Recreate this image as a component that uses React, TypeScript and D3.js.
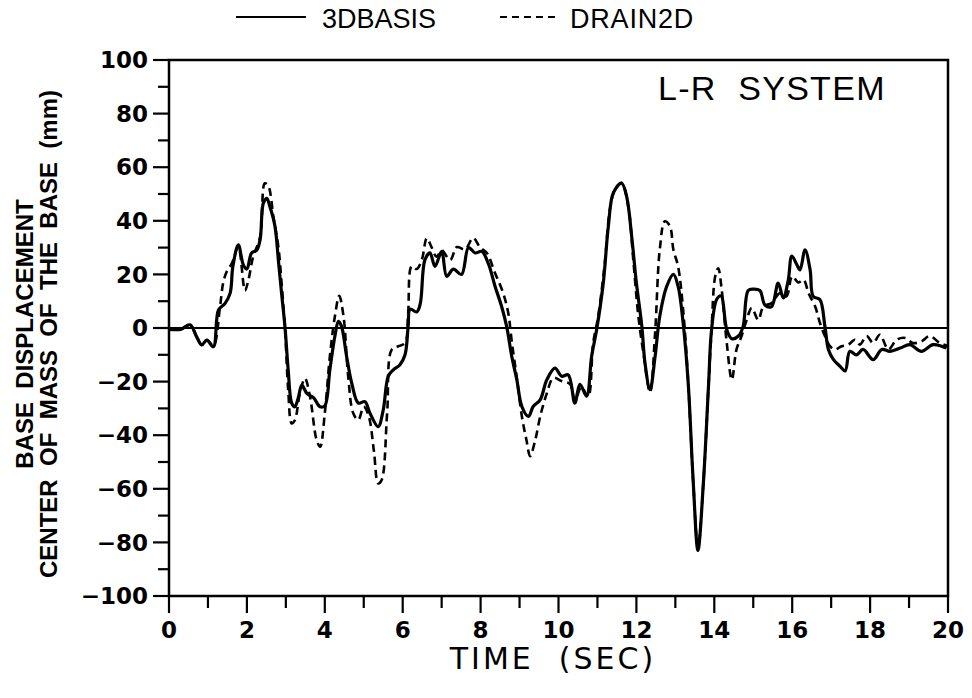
import React from "react";
import * as d3 from "d3";

const solidTime = [0,0.3,0.54,0.71,0.84,0.97,1.14,1.27,1.44,1.57,1.64,1.78,1.91,2.0,2.12,2.25,2.34,2.42,2.51,2.59,2.72,2.81,2.89,2.98,3.06,3.15,3.23,3.32,3.41,3.54,3.71,3.88,4.0,4.13,4.26,4.35,4.43,4.56,4.69,4.86,5.03,5.16,5.37,5.5,5.63,5.76,5.93,6.06,6.14,6.19,6.36,6.45,6.57,6.7,6.83,7.0,7.13,7.3,7.51,7.69,7.86,8.03,8.2,8.37,8.54,8.67,8.8,8.93,9.06,9.23,9.35,9.53,9.7,9.91,10.08,10.25,10.42,10.55,10.72,10.85,10.98,11.15,11.28,11.41,11.62,11.75,11.88,12.0,12.14,12.22,12.35,12.48,12.6,12.78,12.95,13.07,13.2,13.33,13.46,13.58,13.72,13.85,13.93,14.06,14.17,14.32,14.45,14.62,14.74,14.87,15.0,15.17,15.3,15.47,15.64,15.77,15.9,15.99,16.12,16.2,16.33,16.46,16.54,16.71,16.84,16.93,17.06,17.23,17.36,17.48,17.65,17.82,18.08,18.3,18.51,18.77,19.02,19.32,19.62,19.96];
const solidValue = [-0.5,-0.5,1.2,-3.3,-6.3,-4.5,-7,6.7,9.2,13,23,31,23.5,22,28,29,33,46.5,48.4,45.3,38,25,13,0,-15.6,-28,-29.4,-26,-21.3,-24.4,-26,-29.4,-29,-15.6,-3,2.5,0.6,-10.6,-20.5,-28,-27.5,-31.8,-36.8,-30.6,-18,-15.6,-13.7,-10,0.6,7,6,9,25.4,28,23,28.6,19.3,22,20,30,28,28.6,24,15.6,8,0.5,-10.6,-19.3,-29.3,-33,-29.3,-26.8,-19.3,-15,-18,-17.5,-28,-21,-25.4,-10.6,-0.6,16.8,38,50.5,54,49,34,16.8,0.6,-13,-23,-10.6,4.4,15.6,20,15.6,1.9,-20.5,-57.7,-83,-57.7,-22,-0.6,10.6,12,-0.6,-4,-3,0.6,14,14.5,14,8.6,8,16.8,11.2,18,26.8,23.6,21.7,29.2,21.7,11.8,10.6,0.6,-8,-11.8,-14.3,-16,-8.7,-10,-8,-11.8,-8,-8.7,-7.5,-6.2,-8.7,-6.2,-7.5];

const dashTime = [0,0.3,0.54,0.71,0.84,0.97,1.14,1.31,1.39,1.48,1.61,1.78,1.95,2.04,2.16,2.34,2.46,2.55,2.68,2.81,2.89,2.98,3.06,3.15,3.23,3.36,3.49,3.62,3.79,3.88,4.0,4.13,4.26,4.37,4.48,4.6,4.73,4.86,5.0,5.13,5.26,5.37,5.46,5.6,5.72,5.89,6.06,6.14,6.23,6.36,6.49,6.62,6.74,6.87,7.0,7.22,7.39,7.6,7.81,7.99,8.16,8.37,8.58,8.71,8.8,8.93,9.06,9.18,9.27,9.4,9.53,9.7,9.87,10.08,10.3,10.42,10.59,10.76,10.89,11.02,11.19,11.32,11.45,11.62,11.79,11.92,12.05,12.18,12.35,12.48,12.6,12.73,12.86,12.95,13.07,13.2,13.33,13.46,13.58,13.72,13.85,13.93,14.02,14.1,14.19,14.32,14.45,14.57,14.7,14.83,14.96,15.13,15.26,15.47,15.68,15.85,16.0,16.16,16.29,16.42,16.59,16.71,16.84,16.97,17.1,17.27,17.44,17.61,17.74,17.91,18.08,18.25,18.47,18.68,18.9,19.1,19.32,19.53,19.79,20.0];
const dashValue = [-0.5,-0.5,1.2,-3.3,-6.3,-4.5,-6.5,8,16.8,21,24,30,14,18,26.6,34,54,53,41.5,30,16.8,-0.6,-23,-35.6,-34.5,-24.4,-18.8,-25.6,-41.8,-44.3,-31.8,-10.6,4.4,12,4.4,-18,-31.8,-34.3,-29.4,-33,-45.8,-58,-56.7,-31.8,-8,-6.8,-5.6,5.6,23,22,25.4,33.5,30.2,26.6,29,25.4,30.2,29.3,33.6,30,28,20.5,13,5.6,-5,-18.6,-33,-42,-47.8,-42,-33,-24.4,-18.6,-19.8,-21,-27,-22,-25.6,-5.6,4.4,24.5,44.3,51.7,54.2,45.5,25.4,4.4,-9.3,-24,-1.9,29.2,39.8,38,29.2,23,6.8,-20.5,-57.7,-82,-57.7,-22,-0.6,19,22.3,14.3,-5.6,-19.3,-8,-3,3,7.5,3,8,9.3,13,11.8,19.3,17,18,13,8,2,-3,-6.8,-8,-6.8,-6.2,-4.4,-6.2,-3,-5.6,-2.5,-8,-4.4,-3.7,-5.6,-5,-3,-5.6,-6.8];

const xTicks = [0,2,4,6,8,10,12,14,16,18,20];
const xMinorTicks = [1,3,5,7,9,11,13,15,17,19];
const yTicks = [100,80,60,40,20,0,-20,-40,-60,-80,-100];
const yMinorTicks = [90,70,50,30,10,-10,-30,-50,-70,-90];

const seriesNames = ["3DBASIS", "DRAIN2D"];
const panelLabel = "L-R  SYSTEM";
const xTitle = "TIME  (SEC)";
const yTitle1 = "BASE  DISPLACEMENT";
const yTitle2 = "CENTER  OF  MASS  OF  THE  BASE  (mm)";

const W = 972, H = 698;
const L = 169, R = 948, T = 60, B = 596;

export default function App() {
  const x = d3.scaleLinear().domain([0, 20]).range([L, R]);
  const y = d3.scaleLinear().domain([-100, 100]).range([B, T]);
  const line = d3.line<[number, number]>()
    .x(d => x(d[0]))
    .y(d => y(d[1]))
    .curve(d3.curveCatmullRom.alpha(0.5));
  const solidPts: [number, number][] = solidTime.map((t, i) => [t, solidValue[i]]);
  const dashPts: [number, number][] = dashTime.map((t, i) => [t, dashValue[i]]);
  const fmt = (v: number) => (v < 0 ? "\u2212" + Math.abs(v) : String(v));
  const tickFont = "'DejaVu Sans', sans-serif";
  const textFont = "'Liberation Sans', Arial, sans-serif";
  const cy = (T + B) / 2 + 6;
  const pre = { whiteSpace: "pre" as const };
  return (
    <svg width={W} height={H} style={{ position: "absolute", left: 0, top: 0, background: "#fff" }}>
      <rect x={0} y={0} width={W} height={H} fill="#fff" />
      {/* legend */}
      <line x1={236} x2={306} y1={17} y2={17} stroke="#000" strokeWidth={2} />
      <text x={322} y={28} fontFamily={textFont} fontSize={27} fill="#000">{seriesNames[0]}</text>
      <line x1={500} x2={560} y1={17} y2={17} stroke="#000" strokeWidth={2} strokeDasharray="7,5" />
      <text x={570} y={28} fontFamily={textFont} fontSize={27} letterSpacing={0.8} fill="#000">{seriesNames[1]}</text>

      {/* frame */}
      <rect x={L} y={T} width={R - L} height={B - T} fill="none" stroke="#000" strokeWidth={2.5} />
      {/* zero line */}
      <line x1={L} x2={R} y1={y(0)} y2={y(0)} stroke="#000" strokeWidth={2} />

      {/* y ticks */}
      {yTicks.map(v => (
        <g key={"y" + v}>
          <line x1={L - 16} x2={L} y1={y(v)} y2={y(v)} stroke="#000" strokeWidth={2.2} />
          <text x={L - 21} y={y(v)} dy="0.36em" textAnchor="end" fontFamily={tickFont} fontWeight="bold" fontSize={23} fill="#000">{fmt(v)}</text>
        </g>
      ))}
      {yMinorTicks.map(v => (
        <line key={"ym" + v} x1={L - 11} x2={L} y1={y(v)} y2={y(v)} stroke="#000" strokeWidth={2.2} />
      ))}
      <line x1={L} x2={L + 5} y1={y(0)} y2={y(0)} stroke="#000" strokeWidth={2} />

      {/* x ticks */}
      {xTicks.map(v => (
        <g key={"x" + v}>
          <line x1={x(v)} x2={x(v)} y1={B} y2={B + 17} stroke="#000" strokeWidth={2.2} />
          <text x={x(v)} y={B + 42} textAnchor="middle" fontFamily={tickFont} fontWeight="bold" fontSize={23} fill="#000">{v}</text>
        </g>
      ))}
      {xMinorTicks.map(v => (
        <line key={"xm" + v} x1={x(v)} x2={x(v)} y1={B} y2={B + 12} stroke="#000" strokeWidth={2.2} />
      ))}

      {/* series */}
      <path d={line(dashPts) || ""} fill="none" stroke="#000" strokeWidth={2.6} strokeDasharray="8,5" />
      <path d={line(solidPts) || ""} fill="none" stroke="#000" strokeWidth={3.2} strokeLinejoin="round" />

      {/* panel label */}
      <text x={658} y={100} fontFamily={textFont} fontSize={34} letterSpacing={1.3} style={pre} fill="#000">{panelLabel}</text>

      {/* axis titles */}
      <text x={553} y={669} textAnchor="middle" fontFamily={tickFont} fontSize={30} letterSpacing={3} style={pre} fill="#000">{xTitle}</text>
      <text transform={`translate(33,${cy}) rotate(-90)`} textAnchor="middle" fontFamily={textFont} fontWeight="bold" fontSize={24} style={pre} fill="#000">{yTitle1}</text>
      <text transform={`translate(57,${cy}) rotate(-90)`} textAnchor="middle" fontFamily={textFont} fontWeight="bold" fontSize={24} style={pre} fill="#000">{yTitle2}</text>
    </svg>
  );
}
